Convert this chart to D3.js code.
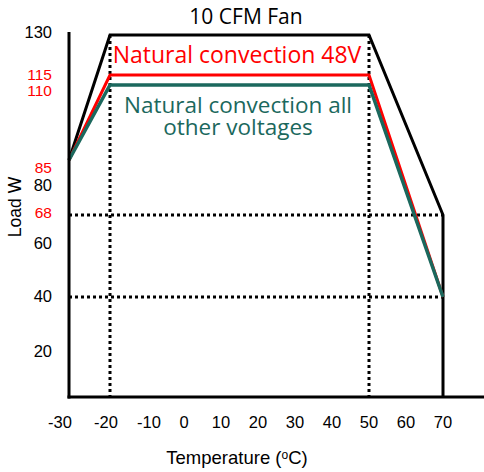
<!DOCTYPE html>
<html><head><meta charset="utf-8">
<script src="https://cdn.jsdelivr.net/npm/d3@7"></script>
<style>body{margin:0;background:#fff}svg{display:block}</style>
</head><body>
<svg id="chart" width="484" height="472"></svg>
<script>
// ---- data ----
const xTicks = [-30,-20,-10,0,10,20,30,40,50,60,70];
const yTicksBlack = [130,80,60,40,20];
const yTicksRed = [115,110,85,68];
const fanTemps = [-30,-20,50,70,70];
const fanLoads = [85,130,130,68,0];
const nat48Temps = [-30,-20,50,70];
const nat48Loads = [85,115,115,40];
const natAllTemps = [-30,-20,50,70];
const natAllLoads = [85,110,110,40];
const refTemps = [-20,50];   // vertical dotted lines
const refLoads = [68,40];    // horizontal dotted lines
const title = "10 CFM Fan";
const label48 = "Natural convection 48V";
const labelAll = ["Natural convection all","other voltages"];

const svg = d3.select("#chart");
const x = d3.scaleLinear().domain([-30,-20,70]).range([69,110,443]);
const y = d3.scaleLinear().domain([0,20,40,60,68,80,85,110,115,130])
  .range([397,352,297,244,215,186,160,85,75,35]);

const TEAL = "#1b685d", RED = "#ff0000";
const SANS = "Liberation Sans, Arial, sans-serif";
const line = d3.line().x(d=>x(d[0])).y(d=>y(d[1]));
const zip = (a,b)=>a.map((v,i)=>[v,b[i]]);

// dotted reference lines
refTemps.forEach(t=>{
  svg.append("path").attr("d", line([[t,130],[t,0]]))
    .attr("stroke","#000").attr("stroke-width",3).attr("stroke-dasharray","3,3").attr("fill","none");
});
refLoads.forEach(l=>{
  svg.append("path").attr("d", line([[-30,l],[70,l]]))
    .attr("stroke","#000").attr("stroke-width",3).attr("stroke-dasharray","3,3").attr("fill","none");
});

// curves
svg.append("path").attr("d", line(zip(fanTemps,fanLoads)))
  .attr("stroke","#000").attr("stroke-width",3).attr("fill","none").attr("stroke-linejoin","miter");
svg.append("path").attr("d", line(zip(nat48Temps,nat48Loads)))
  .attr("stroke",RED).attr("stroke-width",3).attr("fill","none");
svg.append("path").attr("d", line(zip(natAllTemps,natAllLoads)))
  .attr("stroke",TEAL).attr("stroke-width",3.5).attr("fill","none");

// axes lines
svg.append("line").attr("x1",x(-30)).attr("x2",x(-30)).attr("y1",y(130)-3).attr("y2",y(0)+1.5)
  .attr("stroke","#000").attr("stroke-width",3);
svg.append("line").attr("x1",x(-30)-1.5).attr("x2",484).attr("y1",y(0)).attr("y2",y(0))
  .attr("stroke","#000").attr("stroke-width",3);

// x tick labels
const xNudge = {"-30":-9, "-20":-4, "-10":2};
const xAxis = d3.axisBottom(x).tickValues(xTicks).tickSize(0).tickPadding(0).tickFormat(d=>String(d));
const gx = svg.append("g").attr("transform",`translate(0,${y(0)+19})`).call(xAxis);
gx.select(".domain").remove();
gx.selectAll("text").attr("font-family",SANS).attr("font-size",16.5).attr("fill","#000");
gx.selectAll(".tick").attr("transform", d=>`translate(${x(d)+(xNudge[d]||0)},0)`);

// y tick labels
const nudge = {110:6, 85:8, 68:-2, 130:-2};
const yAxis = d3.axisLeft(y).tickValues(yTicksBlack).tickSize(0).tickPadding(17);
const gy = svg.append("g").attr("transform",`translate(${x(-30)},0)`).call(yAxis);
gy.select(".domain").remove();
gy.selectAll("text").attr("font-family",SANS).attr("font-size",16.5).attr("fill","#000");
gy.selectAll(".tick").attr("transform", d=>`translate(0,${y(d)+(nudge[d]||0)})`);

const yAxisR = d3.axisLeft(y).tickValues(yTicksRed).tickSize(0).tickPadding(17);
const gyr = svg.append("g").attr("transform",`translate(${x(-30)},0)`).call(yAxisR);
gyr.select(".domain").remove();
gyr.selectAll("text").attr("font-family",SANS).attr("font-size",15.5).attr("fill",RED);
gyr.selectAll(".tick").attr("transform", d=>`translate(0,${y(d)+(nudge[d]||0)})`);

// title
svg.append("text").attr("x",246).attr("y",23.5).attr("text-anchor","middle")
  .attr("font-family","Open Sans, sans-serif").attr("font-size",21).attr("fill","#000").text(title);

// series labels
svg.append("text").attr("x",237).attr("y",63).attr("text-anchor","middle")
  .attr("font-family","Open Sans, sans-serif").attr("font-size",23).attr("fill",RED).text(label48);
const ta = svg.append("text").attr("x",238).attr("y",113).attr("text-anchor","middle")
  .attr("font-family","Open Sans, sans-serif").attr("font-size",22.5).attr("fill",TEAL);
labelAll.forEach((t,i)=>{
  ta.append("tspan").attr("x",238).attr("dy", i===0 ? 0 : 22).text(t);
});

// axis titles
svg.append("text").attr("transform","translate(21,207) rotate(-90)").attr("text-anchor","middle")
  .attr("font-family",SANS).attr("font-size",17.5).attr("fill","#000").text("Load W");
const xt = svg.append("text").attr("x",237).attr("y",464).attr("text-anchor","middle")
  .attr("font-family",SANS).attr("font-size",18.5).attr("fill","#000");
xt.append("tspan").text("Temperature (");
xt.append("tspan").attr("font-size",12).attr("dy",-5).text("o");
xt.append("tspan").attr("dy",5).text("C)");
</script>
</body></html>
